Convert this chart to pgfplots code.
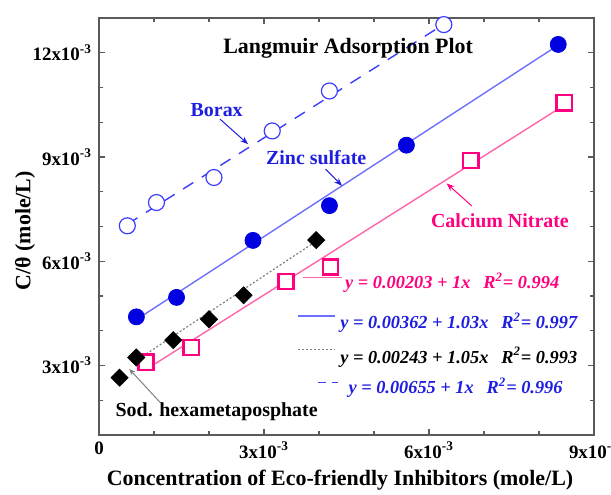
\documentclass[border=0pt]{standalone}
\usepackage{fontspec}
\setmainfont{Liberation Serif}
\usepackage{pgfplots}
\pgfplotsset{compat=1.18}
\usetikzlibrary{arrows.meta}
\definecolor{bluedark}{RGB}{0,0,225}
\definecolor{blueline}{RGB}{110,110,255}
\definecolor{blueopen}{RGB}{60,60,255}
\definecolor{pinkmain}{RGB}{255,0,128}
\definecolor{pinkline}{RGB}{255,100,170}
\definecolor{bluetext}{RGB}{30,30,225}
\definecolor{axisgray}{RGB}{90,90,90}

\begin{document}
\begin{tikzpicture}
\begin{axis}[
  scale only axis, width=247.5bp, height=208.5bp,
  xmin=0, xmax=0.009, ymin=0.001, ymax=0.013,
  clip=false,
  axis line style={draw=axisgray, line width=0.8pt},
  tick style={axisgray, line width=0.6pt},
  tick align=inside,
  major tick length=3bp, minor tick length=1.8bp,
  xtick={0,0.003,0.006,0.009},
  ytick={0.003,0.006,0.009,0.012},
  minor xtick={0.001,0.002,0.004,0.005,0.007,0.008},
  minor ytick={0.002,0.004,0.005,0.007,0.008,0.010,0.011},
  xticklabels={0, 3x10\textsuperscript{-3}, 6x10\textsuperscript{-3}, 9x10\textsuperscript{-3}},
  yticklabels={3x10\textsuperscript{-3}, 6x10\textsuperscript{-3}, 9x10\textsuperscript{-3}, 12x10\textsuperscript{-3}},
  scaled ticks=false,
  tick label style={font=\fontsize{9.5}{11}\selectfont\bfseries},
  xlabel={Concentration of Eco-friendly Inhibitors (mole/L)},
  ylabel={C/θ (mole/L)},
  label style={font=\fontsize{11}{13}\selectfont\bfseries},
  x label style={at={(axis description cs:0.487,0)}, anchor=center, yshift=-22.5bp},
  y label style={at={(axis description cs:-0.1495,0.49)}, anchor=center},
]
% fitted lines
\addplot[blueopen, line width=0.7pt, dash pattern=on 6bp off 5bp] coordinates {(0.000515,0.007065) (0.00627,0.01282)};
\addplot[blueline, line width=0.7pt] coordinates {(0.00068,0.00432) (0.00835,0.01222)};
\addplot[pinkline, line width=0.7pt] coordinates {(0.000854,0.002884) (0.00846,0.01049)};
\addplot[gray, line width=0.6pt, dash pattern=on 1bp off 1bp] coordinates {(0.00068,0.003144) (0.00395,0.006578)};
% data
\addplot[only marks, mark=*, mark size=4bp, mark options={draw=blueopen, fill=white, line width=0.6pt}] coordinates {
(0.000515,0.00702) (0.001045,0.00769) (0.00209,0.00841) (0.00315,0.00975) (0.00419,0.0109) (0.00627,0.01281)};
\addplot[only marks, mark=*, mark size=4bp, mark options={draw=bluedark, fill=bluedark}] coordinates {
(0.00068,0.0044) (0.00141,0.00496) (0.0028,0.0066) (0.00419,0.0076) (0.00559,0.00934) (0.00835,0.01224)};
\addplot[only marks, mark=square*, mark size=3.8bp, mark options={draw=pinkmain, fill=white, line width=1.3pt}] coordinates {
(0.000854,0.00309) (0.00168,0.00352) (0.0034,0.00542) (0.00421,0.00584) (0.00676,0.0089) (0.00846,0.01056)};
\addplot[only marks, mark=square*, mark size=3bp, mark options={draw=black, fill=black, rotate=45}] coordinates {
(0.000374,0.00265) (0.000678,0.00323) (0.00135,0.00373) (0.002,0.00433) (0.00263,0.00502) (0.00395,0.00661)};

% title and labels
\node[font=\fontsize{11}{13}\selectfont\bfseries] at (axis cs:0.00453,0.01214) {Langmuir Adsorption Plot};
\node[font=\fontsize{10}{12}\selectfont\bfseries, text=bluetext] at (axis cs:0.00214,0.01034) {Borax};
\node[font=\fontsize{10}{12}\selectfont\bfseries, text=bluetext] at (axis cs:0.00395,0.00898) {Zinc sulfate};
\node[font=\fontsize{10}{12}\selectfont\bfseries, text=pinkmain] at (axis cs:0.00729,0.00716) {Calcium Nitrate};
\node[font=\fontsize{10}{12}\selectfont\bfseries, text=black] at (axis cs:0.00214,0.00168) {Sod. hexametaposphate};
\draw[bluetext, line width=0.5pt, -{Stealth[length=4bp,width=3bp]}] (axis cs:0.0022,0.01009) -- (axis cs:0.00271,0.00937);
\draw[bluetext, line width=0.5pt, -{Stealth[length=4bp,width=3bp]}] (axis cs:0.00412,0.00865) -- (axis cs:0.00442,0.00817);
\draw[pinkmain, line width=0.5pt, -{Stealth[length=4bp,width=3bp]}] (axis cs:0.00678,0.00759) -- (axis cs:0.00632,0.00824);
\draw[gray, line width=0.5pt, -{Stealth[length=3bp,width=2.5bp]}] (axis cs:0.00111,0.00194) -- (axis cs:0.00055,0.0029);

% legend
\draw[pinkline, line width=0.7pt] (axis cs:0.00371,0.00553) -- (axis cs:0.00442,0.00553);
\draw[blueline, line width=0.7pt] (axis cs:0.00362,0.00443) -- (axis cs:0.00429,0.00443);
\draw[gray, line width=0.6pt, dash pattern=on 1bp off 1bp] (axis cs:0.00362,0.00346) -- (axis cs:0.00429,0.00346);
\draw[blueopen, line width=0.7pt, dash pattern=on 4bp off 3bp] (axis cs:0.00398,0.00251) -- (axis cs:0.00435,0.00251);
\begin{scope}[every node/.style={anchor=west, inner sep=0pt, font=\fontsize{9.2}{11}\selectfont\bfseries\itshape}]
\node[text=pinkmain] at (axis cs:0.00447,0.00538) {y = 0.00203 + 1x\hspace{0.7em}R\textsuperscript{2}= 0.994};
\node[text=bluetext] at (axis cs:0.00438,0.00423) {y = 0.00362 + 1.03x\hspace{0.7em}R\textsuperscript{2}= 0.997};
\node[text=black] at (axis cs:0.00438,0.00323) {y = 0.00243 + 1.05x\hspace{0.7em}R\textsuperscript{2}= 0.993};
\node[text=bluetext] at (axis cs:0.00453,0.00236) {y = 0.00655 + 1x\hspace{0.7em}R\textsuperscript{2}= 0.996};
\end{scope}
\end{axis}
\pgfresetboundingbox
\path (-49.5bp,-30bp) rectangle (256bp,217.5bp);
\end{tikzpicture}
\end{document}
